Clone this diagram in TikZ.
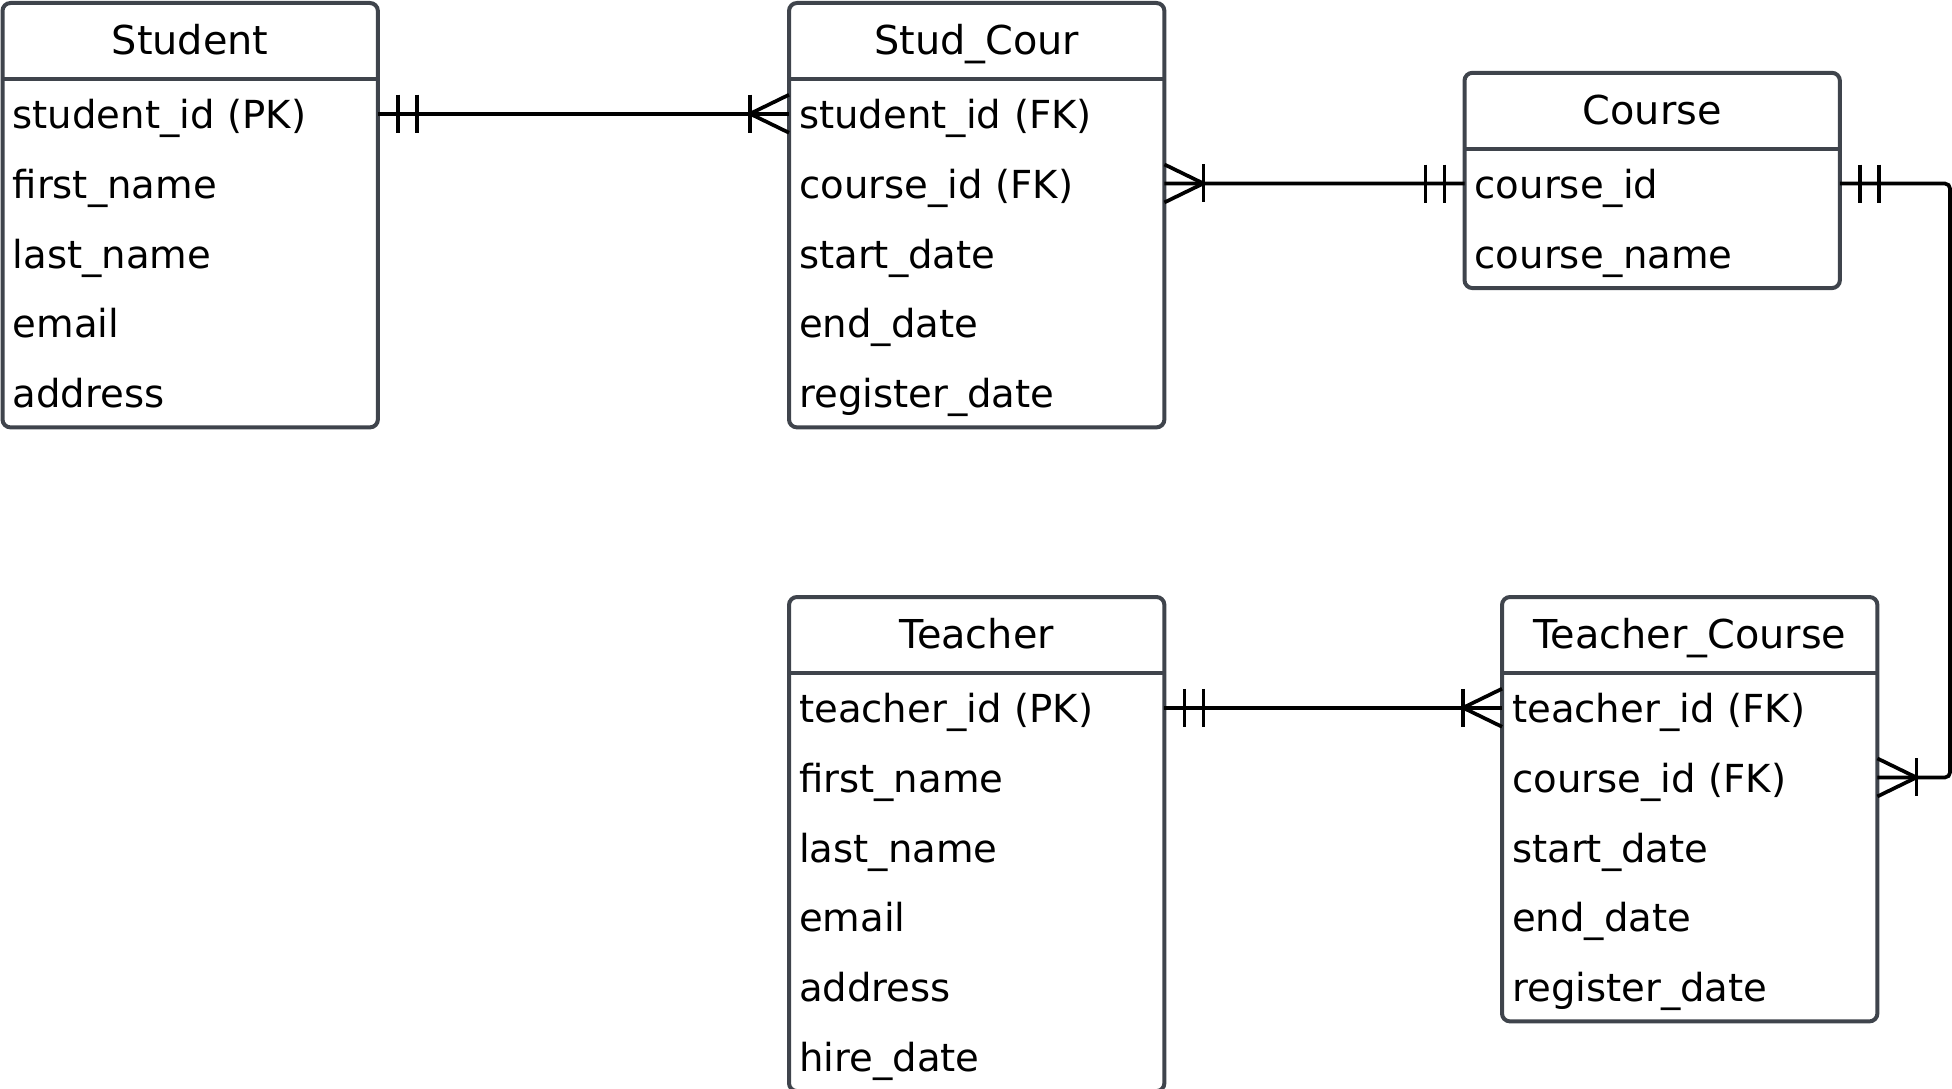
\documentclass[tikz,border=0pt]{standalone}
\usepackage{fontspec}
\setmainfont{DejaVu Sans}
\usetikzlibrary{fit}
\definecolor{boxline}{RGB}{63,68,76}
\newcommand{\erone}[2]{%
  \draw[conn] ([xshift=#2*20pt,yshift=19pt]#1) -- ([xshift=#2*20pt,yshift=-19pt]#1);
  \draw[conn] ([xshift=#2*39pt,yshift=19pt]#1) -- ([xshift=#2*39pt,yshift=-19pt]#1);}
\newcommand{\ermany}[2]{%
  \draw[conn] ([xshift=#2*39pt,yshift=19pt]#1) -- ([xshift=#2*39pt,yshift=-19pt]#1);
  \draw[conn] ([yshift=19pt]#1) -- ([xshift=#2*39pt]#1) -- ([yshift=-19pt]#1);}
\begin{document}
\begin{tikzpicture}[x=1pt,y=-1pt,
  font=\fontsize{38.6}{46}\selectfont,
  hdr/.style={minimum width=375pt, minimum height=75.5pt, inner sep=0pt,
    text height=28pt, text depth=0pt, anchor=north west,
    font=\fontsize{39.8}{46}\selectfont},
  row/.style={minimum height=69.3pt, text width=355pt, inner xsep=10pt, inner ysep=0pt,
    align=left, text height=36pt, text depth=6pt, anchor=north west},
  tbl/.style={draw=boxline, line width=4pt, rounded corners=8pt, inner sep=0pt},
  sepline/.style={draw=boxline, line width=4pt},
  conn/.style={draw=black, line width=3.7pt}]
\useasboundingbox (0,0) rectangle (1952,1089);

% Student
\node[hdr] (s0) at (2.5,3) {Student};
\node[row] (s1) at (s0.south west) {student\_id (PK)};
\node[row] (s2) at (s1.south west) {first\_name};
\node[row] (s3) at (s2.south west) {last\_name};
\node[row] (s4) at (s3.south west) {email};
\node[row] (s5) at (s4.south west) {address};
\node[tbl, fit=(s0)(s5)] (student) {};
\draw[sepline] (s0.south west) -- (s0.south east);

% Stud_Cour
\node[hdr] (sc0) at (789,3) {Stud\_Cour};
\node[row] (sc1) at (sc0.south west) {student\_id (FK)};
\node[row] (sc2) at (sc1.south west) {course\_id (FK)};
\node[row] (sc3) at (sc2.south west) {start\_date};
\node[row] (sc4) at (sc3.south west) {end\_date};
\node[row] (sc5) at (sc4.south west) {register\_date};
\node[tbl, fit=(sc0)(sc5)] (studcour) {};
\draw[sepline] (sc0.south west) -- (sc0.south east);

% Course
\node[hdr] (c0) at (1464.5,72.8) {Course};
\node[row] (c1) at (c0.south west) {course\_id};
\node[row] (c2) at (c1.south west) {course\_name};
\node[tbl, fit=(c0)(c2)] (course) {};
\draw[sepline] (c0.south west) -- (c0.south east);

% Teacher
\node[hdr] (t0) at (789,597) {Teacher};
\node[row] (t1) at (t0.south west) {teacher\_id (PK)};
\node[row] (t2) at (t1.south west) {first\_name};
\node[row] (t3) at (t2.south west) {last\_name};
\node[row] (t4) at (t3.south west) {email};
\node[row] (t5) at (t4.south west) {address};
\node[row] (t6) at (t5.south west) {hire\_date};
\node[tbl, fit=(t0)(t6)] (teacher) {};
\draw[sepline] (t0.south west) -- (t0.south east);

% Teacher_Course
\node[hdr] (tc0) at (1502,597) {Teacher\_Course};
\node[row] (tc1) at (tc0.south west) {teacher\_id (FK)};
\node[row] (tc2) at (tc1.south west) {course\_id (FK)};
\node[row] (tc3) at (tc2.south west) {start\_date};
\node[row] (tc4) at (tc3.south west) {end\_date};
\node[row] (tc5) at (tc4.south west) {register\_date};
\node[tbl, fit=(tc0)(tc5)] (teachercourse) {};
\draw[sepline] (tc0.south west) -- (tc0.south east);

% Connectors
\draw[conn] (s1.east) -- (sc1.west);
\erone{s1.east}{1}
\ermany{sc1.west}{-1}

\draw[conn] (sc2.east) -- (c1.west);
\ermany{sc2.east}{1}
\erone{c1.west}{-1}

\coordinate (rb) at (1950,0);
\draw[conn, rounded corners=5pt] (c1.east) -- (rb |- c1.east) -- (rb |- tc2.east) -- (tc2.east);
\erone{c1.east}{1}
\ermany{tc2.east}{1}

\draw[conn] (t1.east) -- (tc1.west);
\erone{t1.east}{1}
\ermany{tc1.west}{-1}
\end{tikzpicture}
\end{document}
